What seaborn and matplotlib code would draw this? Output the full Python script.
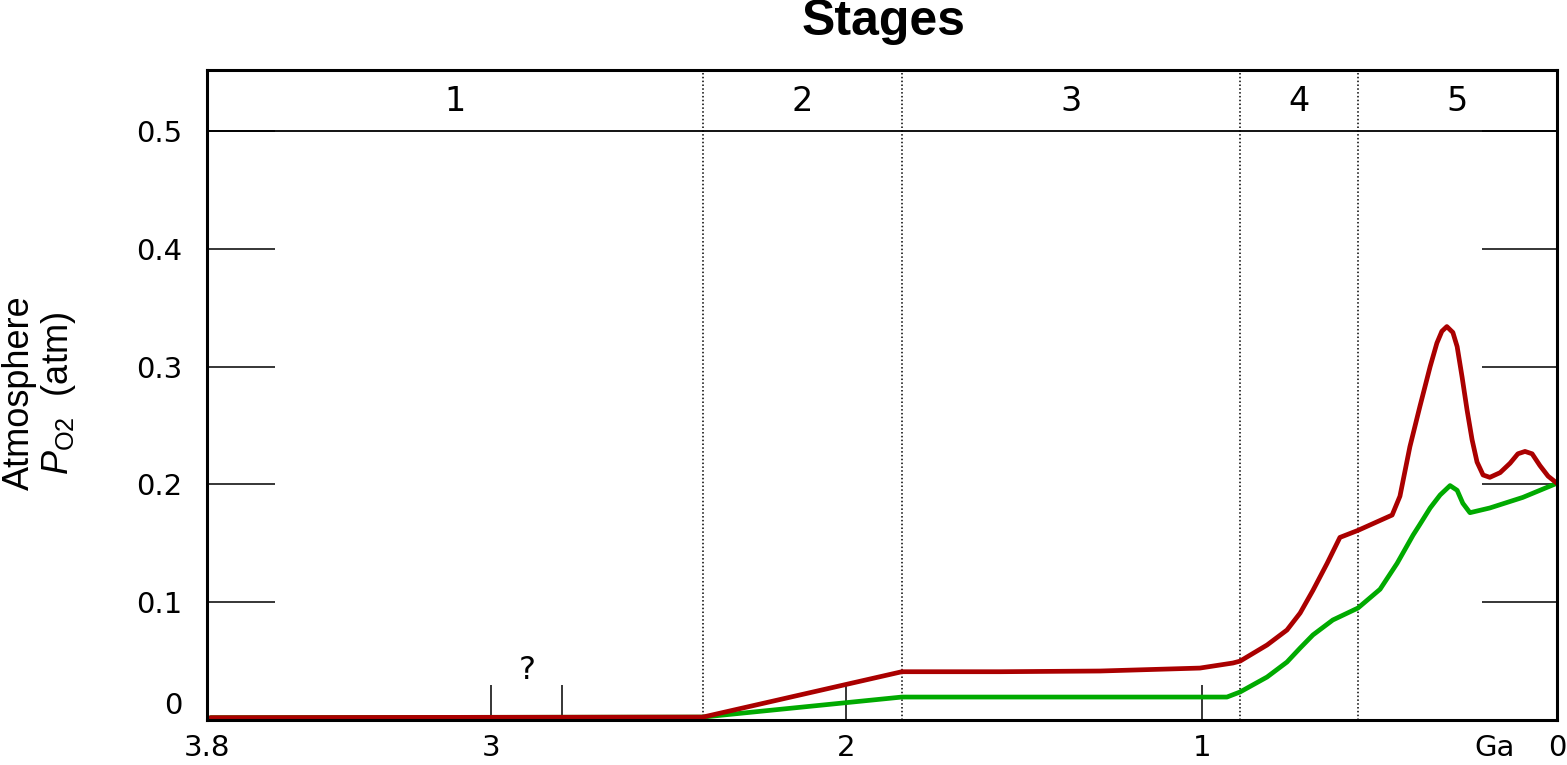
import numpy as np
import pandas as pd
import matplotlib
matplotlib.use("Agg")
import matplotlib.pyplot as plt
import seaborn as sns

# values (Ga before present, atmospheric pO2 in atm)
red_ga = [3.79, 2.404, 1.844, 1.568, 1.286, 1.005, 0.912, 0.892, 0.816, 0.760,
          0.723, 0.687, 0.647, 0.611, 0.560, 0.464, 0.442, 0.414, 0.386, 0.357,
          0.338, 0.324, 0.310, 0.293, 0.281, 0.267, 0.253, 0.239, 0.225, 0.208,
          0.189, 0.160, 0.132, 0.110, 0.090, 0.070, 0.048, 0.025, 0.0]
red_po2 = [0.002, 0.0025, 0.041, 0.041, 0.0416, 0.0441, 0.0484, 0.050, 0.0637, 0.0764,
           0.0908, 0.110, 0.133, 0.155, 0.161, 0.174, 0.19, 0.232, 0.266, 0.300,
           0.320, 0.330, 0.334, 0.329, 0.317, 0.291, 0.263, 0.238, 0.219, 0.208,
           0.206, 0.210, 0.218, 0.226, 0.228, 0.226, 0.216, 0.207, 0.201]

green_ga = [3.79, 2.404, 1.844, 0.929, 0.892, 0.816, 0.760, 0.723, 0.687, 0.631,
            0.560, 0.498, 0.450, 0.405, 0.386, 0.357, 0.329, 0.301, 0.281, 0.265,
            0.245, 0.189, 0.096, 0.0]
green_po2 = [0.002, 0.0025, 0.0195, 0.0195, 0.0238, 0.0365, 0.0492, 0.0611, 0.0722, 0.0849,
             0.0951, 0.111, 0.133, 0.157, 0.166, 0.180, 0.191, 0.199, 0.195, 0.184,
             0.176, 0.180, 0.189, 0.201]

stage_bounds = [3.8, 2.404, 1.844, 0.892, 0.560, 0.0]
stage_labels = ["1", "2", "3", "4", "5"]

y_ticks = [0, 0.1, 0.2, 0.3, 0.4, 0.5]
y_tick_labels = ["0", "0.1", "0.2", "0.3", "0.4", "0.5"]
x_ticks = [3.8, 3, 2.8, 2, 1, 0]
x_tick_labels = ["3.8", "3", "", "2", "1", "0"]

df = pd.concat([
    pd.DataFrame({"ga": green_ga, "po2": green_po2, "curve": "low"}),
    pd.DataFrame({"ga": red_ga, "po2": red_po2, "curve": "high"}),
])

sns.set_theme(style="white")
plt.rcParams["font.family"] = ["DejaVu Sans"]
plt.rcParams["text.color"] = "black"
plt.rcParams["xtick.color"] = "black"
plt.rcParams["ytick.color"] = "black"
plt.rcParams["mathtext.fontset"] = "custom"
plt.rcParams["mathtext.rm"] = "Liberation Sans"
plt.rcParams["mathtext.it"] = "Liberation Sans:italic"

fig = plt.figure(figsize=(15.67, 7.65), dpi=100)
ax = fig.add_axes([0.1321, 0.0588, 0.9936 - 0.1321, 0.9085 - 0.0588])

sns.lineplot(data=df, x="ga", y="po2", hue="curve", estimator=None, sort=False,
             palette={"low": "#00aa00", "high": "#aa0000"}, linewidth=3.4,
             legend=False, ax=ax)
for ln in ax.get_lines():
    ln.set_solid_joinstyle("round")
    ln.set_solid_capstyle("round")

ax.set_xlim(3.8, 0)
ax.set_ylim(0, 0.5518)

# stage boundaries and header
for b in stage_bounds[1:-1]:
    ax.axvline(b, color="black", linewidth=1.1, linestyle=(0, (1, 1.5)), zorder=1)
ax.axhline(0.5, color="black", linewidth=1.3)
for i, lab in enumerate(stage_labels):
    cx = (stage_bounds[i] + stage_bounds[i + 1]) / 2
    ax.text(cx, 0.525, lab, ha="center", va="center", fontsize=24)

ax.text(2.9, 0.042, "?", ha="center", va="center", fontsize=23)

ax.set_yticks(y_ticks)
ax.set_yticklabels(y_tick_labels, fontsize=21)
ax.set_xticks(x_ticks)
ax.set_xticklabels(x_tick_labels, fontsize=21)
ax.tick_params(axis="y", direction="in", length=49, width=1.1, left=True,
               right=True, pad=18, color="black")
ax.tick_params(axis="x", direction="in", length=25, width=1.1, bottom=True,
               pad=10, color="black")
for t in ax.yaxis.get_major_ticks():
    t.tick2line.set_markersize(54)
ax.get_yticklabels()[0].set_va("bottom")
ax.set_xlabel("")
ax.set_ylabel("")

for s in ax.spines.values():
    s.set_color("black")
    s.set_linewidth(2.2)

fig.text(1495 / 1567, 1 - 748 / 765, "Ga", ha="center", va="center", fontsize=21)
fig.text(884 / 1567, 1 - 22 / 765, "Stages", ha="center", va="center",
         fontsize=36, fontweight="bold", family=["Liberation Sans", "DejaVu Sans"])
fig.text(19 / 1567, 1 - 393 / 765, "Atmosphere", rotation=90, ha="center",
         va="center", fontsize=26, family=["Liberation Sans", "DejaVu Sans"])
fig.text(58 / 1567, 1 - 393 / 765, r"$P_{\mathrm{O2}}$  (atm)", rotation=90,
         ha="center", va="center", fontsize=26,
         family=["Liberation Sans", "DejaVu Sans"])

fig.savefig("out.png", dpi=100)
